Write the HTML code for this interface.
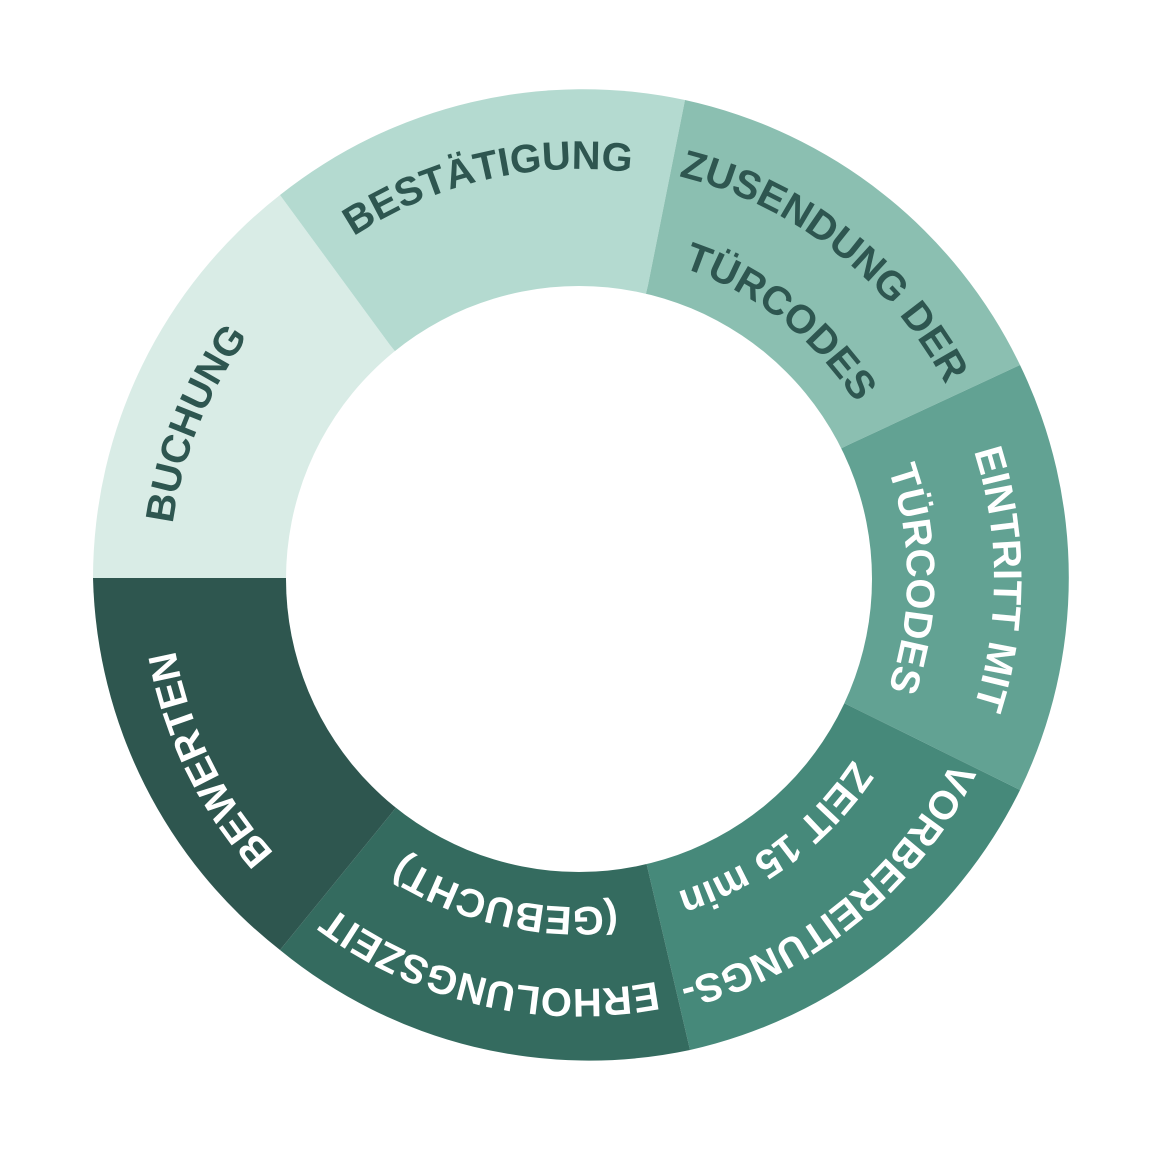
<!DOCTYPE html>
<html><head><meta charset="utf-8">
<style>
html,body{margin:0;padding:0;background:#fff;}
svg{display:block;}
text{font-family:"Liberation Sans",sans-serif;font-weight:bold;font-size:40px;}
</style></head>
<body>
<svg width="1159" height="1150" viewBox="0 0 1159 1150" xmlns="http://www.w3.org/2000/svg">
<defs>
  <path id="p410" d="M169,579 A410,410 0 1 1 989,579 A410,410 0 1 1 169,579"/>
  <path id="p415" d="M164,579 A415,415 0 1 1 994,579 A415,415 0 1 1 164,579"/>
  <path id="p328" d="M251,579 A328,328 0 1 1 907,579 A328,328 0 1 1 251,579"/>
</defs>
<!-- segments -->
<path d="M286,578 L93,578 A487,487 0 0 1 280,195 L390,345 L579,579 Z" fill="#d9ece6"/>
<path d="M390,345 L280,195 A487,487 0 0 1 685,100 L648,285 L579,579 Z" fill="#b4dad0"/>
<path d="M648,285 L685,100 A487,487 0 0 1 1020,365 L848,445 L579,579 Z" fill="#8bbfb1"/>
<path d="M848,445 L1020,365 A487,487 0 0 1 1020,790 L848,705 L579,579 Z" fill="#62a293"/>
<path d="M848,705 L1020,790 A487,487 0 0 1 690,1050 L648,870 L579,579 Z" fill="#46897a"/>
<path d="M648,870 L690,1050 A487,487 0 0 1 280,950 L390,815 L579,579 Z" fill="#346b5f"/>
<path d="M390,815 L280,950 A487,487 0 0 1 93,578 L286,578 L579,579 Z" fill="#2e564f"/>
<circle cx="579" cy="579" r="293" fill="#fff"/>

<!-- labels -->
<g transform="rotate(202,579,579)"><text fill="#2e5650" text-anchor="middle"><textPath href="#p410" startOffset="50%">BUCHUNG</textPath></text></g>
<g transform="rotate(257,579,579)"><text fill="#2e5650" text-anchor="middle"><textPath href="#p410" startOffset="50%">BESTÄTIGUNG</textPath></text></g>
<g transform="rotate(308,579,579)"><text fill="#2e5650" text-anchor="middle"><textPath href="#p415" startOffset="50%">ZUSENDUNG DER</textPath></text></g>
<g transform="rotate(308,579,579)"><text fill="#2e5650" text-anchor="middle"><textPath href="#p328" startOffset="50%">TÜRCODES</textPath></text></g>
<g transform="rotate(0,579,579)"><text fill="#fff" text-anchor="middle"><textPath href="#p415" startOffset="50%">EINTRITT MIT</textPath></text></g>
<g transform="rotate(0,579,579)"><text fill="#fff" text-anchor="middle"><textPath href="#p328" startOffset="50%">TÜRCODES</textPath></text></g>
<g transform="rotate(51,579,579)"><text fill="#fff" text-anchor="middle"><textPath href="#p415" startOffset="50%">VORBEREITUNGS-</textPath></text></g>
<g transform="rotate(53,579,579)"><text fill="#fff" text-anchor="middle"><textPath href="#p328" startOffset="50%">ZEIT 15 min</textPath></text></g>
<g transform="rotate(103,579,579)"><text fill="#fff" text-anchor="middle"><textPath href="#p410" startOffset="50%">ERHOLUNGSZEIT</textPath></text></g>
<g transform="rotate(103,579,579)"><text fill="#fff" text-anchor="middle"><textPath href="#p328" startOffset="50%">(GEBUCHT)</textPath></text></g>
<g transform="rotate(154,579,579)"><text fill="#fff" text-anchor="middle"><textPath href="#p410" startOffset="50%">BEWERTEN</textPath></text></g>
</svg>
</body></html>
